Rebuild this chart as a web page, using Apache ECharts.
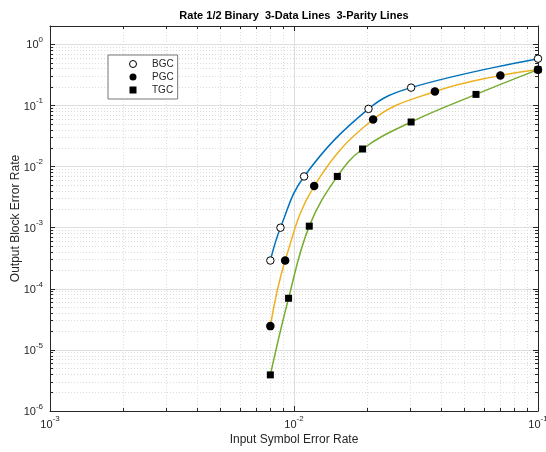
<!DOCTYPE html>
<html>
<head>
<meta charset="utf-8">
<script src="https://cdn.jsdelivr.net/npm/echarts@6/dist/echarts.min.js"></script>
<style>html,body{margin:0;padding:0;background:#fff}#c{width:546px;height:452px}</style>
</head>
<body>
<div id="c"></div>
<script>
// ---- data ----
const bgcX = [0.008, 0.0088, 0.011, 0.0202, 0.0302, 0.1];
const bgcY = [2.9e-4, 1.0e-3, 6.9e-3, 8.8e-2, 0.196, 0.584];
const pgcX = [0.008, 0.0092, 0.0121, 0.0211, 0.0378, 0.0701, 0.1];
const pgcY = [2.45e-5, 2.9e-4, 4.8e-3, 5.9e-2, 0.169, 0.311, 0.386];
const tgcX = [0.008, 0.0095, 0.01155, 0.01505, 0.0191, 0.0302, 0.0557, 0.1];
const tgcY = [3.9e-6, 7.0e-5, 1.06e-3, 6.9e-3, 1.94e-2, 5.37e-2, 0.152, 0.386];
const seriesNames = ['BGC', 'PGC', 'TGC'];
const titleText = 'Rate 1/2 Binary  3-Data Lines  3-Parity Lines';
const xName = 'Input Symbol Error Rate';
const yName = 'Output Block Error Rate';
const xRange = [1e-3, 1e-1];
const yRange = [1e-6, 2];
const xDecades = [-3, -2, -1];
const yDecades = [-6, -5, -4, -3, -2, -1, 0];

function minorValues(decades, max) {
  const out = [];
  decades.forEach(d => {
    for (let m = 2; m <= 9; m++) {
      const v = m * Math.pow(10, d);
      if (v < max * 0.999) out.push(v);
    }
  });
  return out;
}
const xMinor = minorValues(xDecades.slice(0, -1), xRange[1]);
const yMinor = minorValues(yDecades, yRange[1]);

const pairs = (xs, ys) => xs.map((x, i) => [x, ys[i]]);

const FONT = '"Liberation Sans", Arial, Helvetica, sans-serif';
const AX = '#262626';
const labelFmt = function (v) {
  const e = Math.round(Math.log10(v));
  if (Math.abs(v - Math.pow(10, e)) / Math.pow(10, e) > 1e-6) return '';
  return '{b|10}{s|' + e + '}';
};
const rich = {
  b: { fontSize: 11, fontFamily: FONT, color: AX, verticalAlign: 'bottom', lineHeight: 13 },
  s: { fontSize: 8, fontFamily: FONT, color: AX, verticalAlign: 'bottom', padding: [0, 0, 7, 0], lineHeight: 9 }
};

function mkAxis(kind, pos, major, range) {
  const minorVals = kind === 'x' ? xMinor : yMinor;
  return {
    type: 'log',
    position: pos,
    min: range[0],
    max: range[1],
    logBase: 10,
    axisLine: { show: major, onZero: false, lineStyle: { color: AX, width: 1 } },
    axisTick: major
      ? { show: true, inside: true, length: 5, lineStyle: { color: AX, width: 1 } }
      : { show: true, inside: true, length: 3, customValues: minorVals, lineStyle: { color: AX, width: 1 } },
    axisLabel: { show: false },
    splitLine: { show: false },
    minorTick: { show: false },
    minorSplitLine: { show: false }
  };
}

const xAxes = [
  mkAxis('x', 'bottom', true, xRange),
  mkAxis('x', 'bottom', false, xRange),
  mkAxis('x', 'top', true, xRange),
  mkAxis('x', 'top', false, xRange)
];
const yAxes = [
  mkAxis('y', 'left', true, yRange),
  mkAxis('y', 'left', false, yRange),
  mkAxis('y', 'right', true, yRange),
  mkAxis('y', 'right', false, yRange)
];
xAxes[0].axisLabel = { show: true, formatter: labelFmt, rich: rich, margin: 6, showMinLabel: true, showMaxLabel: true, hideOverlap: false };
xAxes[0].splitLine = { show: true, lineStyle: { color: '#dedede', width: 1 } };
xAxes[0].name = xName;
xAxes[0].nameLocation = 'middle';
xAxes[0].nameGap = 23;
xAxes[0].nameMoveOverlap = false;
xAxes[0].nameTextStyle = { fontSize: 12, fontFamily: FONT, color: AX };
xAxes[1].splitLine = { show: true, lineStyle: { color: '#dcdcdc', width: 1, type: [1, 2] } };

yAxes[0].axisLabel = { show: true, formatter: labelFmt, rich: rich, margin: 7, showMinLabel: true, showMaxLabel: true, hideOverlap: false };
yAxes[0].splitLine = { show: true, lineStyle: { color: '#dedede', width: 1 } };
yAxes[0].name = yName;
yAxes[0].nameLocation = 'middle';
yAxes[0].nameGap = 28;
yAxes[0].nameMoveOverlap = false;
yAxes[0].nameTextStyle = { fontSize: 12, fontFamily: FONT, color: AX };
yAxes[1].splitLine = { show: true, lineStyle: { color: '#dcdcdc', width: 1, type: [1, 2] } };

const colors = ['#0072BD', '#EDB120', '#77AC30'];
const datasets = [pairs(bgcX, bgcY), pairs(pgcX, pgcY), pairs(tgcX, tgcY)];

const series = [];
datasets.forEach((d, i) => {
  series.push({
    type: 'line', name: seriesNames[i] + ' fit', data: d, xAxisIndex: 0, yAxisIndex: 0,
    smooth: 0.4, showSymbol: false, symbol: 'none', silent: true,
    lineStyle: { color: colors[i], width: 1.5 }, z: 3, animation: false
  });
});
const SQUARE = 'path://M0,0L10,0L10,10L0,10Z';
const markerDefs = [
  { name: 'TGC', data: datasets[2], symbol: 'rect', size: 7, style: { color: '#000', opacity: 1 }, z: 4 },
  { name: 'PGC', data: datasets[1], symbol: 'circle', size: 8.5, style: { color: '#000', opacity: 1 }, z: 5 },
  { name: 'BGC', data: datasets[0], symbol: 'circle', size: 7.5, style: { color: '#fff', borderColor: '#000', borderWidth: 1, opacity: 1 }, z: 6 }
];
markerDefs.forEach(m => {
  series.push({
    type: 'scatter', name: m.name, data: m.data, xAxisIndex: 0, yAxisIndex: 0,
    symbol: m.symbol, symbolSize: m.size, itemStyle: m.style, z: m.z, clip: false, animation: false
  });
});

const chart = echarts.init(document.getElementById('c'), null, { renderer: 'canvas' });
chart.setOption({
  animation: false,
  backgroundColor: '#fff',
  textStyle: { fontFamily: FONT },
  grid: { left: 50, right: 8, top: 26, bottom: 41, containLabel: false, outerBoundsMode: 'none', show: false },
  xAxis: xAxes,
  yAxis: yAxes,
  legend: {
    orient: 'vertical', left: 108, top: 55,
    data: [
      { name: 'BGC', icon: 'circle', itemStyle: { color: '#fff', borderColor: '#000', borderWidth: 1, opacity: 1 } },
      { name: 'PGC', icon: 'circle', itemStyle: { color: '#000', opacity: 1 } },
      { name: 'TGC', icon: SQUARE, itemStyle: { color: '#000', opacity: 1 } }
    ],
    itemWidth: 28, itemHeight: 7, itemGap: 1,
    padding: [3, 4, 3, 21],
    borderColor: '#777', borderWidth: 1, backgroundColor: '#fff', borderRadius: 0,
    textStyle: { fontSize: 10, fontFamily: FONT, color: AX, lineHeight: 12 },
    selectedMode: false
  },
  graphic: [{
    type: 'text', x: 294, y: 16, silent: true,
    style: { text: titleText, fontSize: 11, fontWeight: 'bold', fontFamily: FONT, fill: '#000', textAlign: 'center', textVerticalAlign: 'middle' }
  }],
  series: series
});
</script>
</body>
</html>
